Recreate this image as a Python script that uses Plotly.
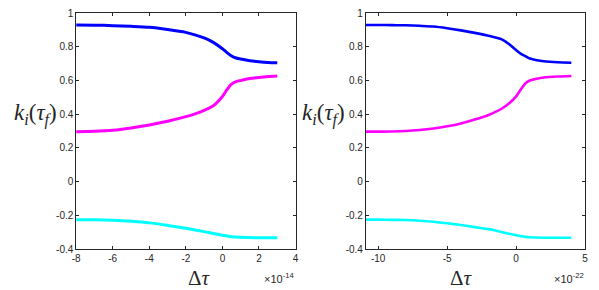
import plotly.graph_objects as go

# ---- data (left panel, x in units of 1e-14) ----
x_left = [-8, -7, -6, -5, -4, -3, -2, -1.5, -1, -0.5, 0, 0.25, 0.5, 0.75, 1, 1.5, 2, 2.5, 3]
blue_left = [0.929, 0.928, 0.925, 0.921, 0.915, 0.902, 0.885, 0.870, 0.852, 0.826, 0.788, 0.765, 0.745, 0.733, 0.727, 0.717, 0.711, 0.707, 0.705]
mag_left = [0.296, 0.298, 0.304, 0.318, 0.336, 0.358, 0.385, 0.402, 0.423, 0.450, 0.505, 0.545, 0.578, 0.593, 0.600, 0.611, 0.618, 0.623, 0.626]
cyan_left = [-0.226, -0.227, -0.230, -0.236, -0.245, -0.260, -0.277, -0.287, -0.297, -0.308, -0.318, -0.323, -0.327, -0.329, -0.330, -0.332, -0.333, -0.333, -0.333]

# ---- data (right panel, x in units of 1e-22) ----
x_right = [-10.9, -10, -9, -8, -7, -6, -5, -4, -3, -2, -1.5, -1, -0.5, 0, 0.35, 0.7, 1, 1.5, 2, 3, 4]
blue_right = [0.929, 0.929, 0.928, 0.927, 0.924, 0.920, 0.910, 0.897, 0.882, 0.865, 0.855, 0.842, 0.815, 0.780, 0.758, 0.743, 0.730, 0.720, 0.714, 0.708, 0.705]
mag_right = [0.296, 0.296, 0.297, 0.300, 0.306, 0.315, 0.328, 0.345, 0.368, 0.395, 0.413, 0.435, 0.465, 0.505, 0.548, 0.585, 0.600, 0.610, 0.617, 0.623, 0.626]
cyan_right = [-0.226, -0.226, -0.227, -0.228, -0.232, -0.238, -0.247, -0.258, -0.270, -0.282, -0.290, -0.300, -0.310, -0.318, -0.324, -0.328, -0.330, -0.332, -0.333, -0.333, -0.333]

y_ticks = [-0.4, -0.2, 0, 0.2, 0.4, 0.6, 0.8, 1]
y_ticktext = ["-0.4", "-0.2", "0", "0.2", "0.4", "0.6", "0.8", "1"]
xl_ticks = [-8, -6, -4, -2, 0, 2, 4]
xl_ticktext = ["-8", "-6", "-4", "-2", "0", "2", "4"]
xr_ticks = [-10, -5, 0, 5]
xr_ticktext = ["-10", "-5", "0", "5"]

colors = ["#0000ff", "#ff00ff", "#00ffff"]

fig = go.Figure()
for ys, c in zip([blue_left, mag_left, cyan_left], colors):
    fig.add_trace(go.Scatter(x=x_left, y=ys, mode="lines", line=dict(color=c, width=3, shape="spline", smoothing=0.8),
                             xaxis="x", yaxis="y", showlegend=False))
for ys, c in zip([blue_right, mag_right, cyan_right], colors):
    fig.add_trace(go.Scatter(x=x_right, y=ys, mode="lines", line=dict(color=c, width=2.6, shape="spline", smoothing=0.8),
                             xaxis="x2", yaxis="y2", showlegend=False))

W, H = 599, 290
tickfont = dict(family="Liberation Sans, Arial, sans-serif", size=10, color="#262626")
ax_common = dict(showgrid=False, zeroline=False, showline=True, linecolor="#262626", linewidth=0.6,
                 mirror="allticks", ticks="inside", ticklen=3, tickwidth=0.6, tickcolor="#262626",
                 tickfont=tickfont)

fig.update_layout(
    width=W, height=H, paper_bgcolor="white", plot_bgcolor="white",
    margin=dict(l=0, r=0, t=13, b=41),
    xaxis=dict(domain=[73 / W, 295 / W], range=[-8, 4], tickvals=xl_ticks, ticktext=xl_ticktext,
               anchor="y", **ax_common),
    yaxis=dict(domain=[0, 1], range=[-0.4, 1], tickvals=y_ticks, ticktext=y_ticktext,
               anchor="x", **ax_common),
    xaxis2=dict(domain=[366 / W, 588 / W], range=[-10.9, 5], tickvals=xr_ticks, ticktext=xr_ticktext,
                anchor="y2", **ax_common),
    yaxis2=dict(domain=[0, 1], range=[-0.4, 1], tickvals=y_ticks, ticktext=y_ticktext,
                anchor="x2", **ax_common),
)

serif = "Liberation Serif, DejaVu Serif, serif"
ylab = "<i>k<sub>i</sub></i>(<i>τ<sub>f</sub></i>)"
xlab = "Δ<i>τ</i>"
ylow = (249 - 278) / 236
ann = []
ann.append(dict(x=184 / W, y=ylow, xref="paper", yref="paper", text=xlab, showarrow=False,
                font=dict(family=serif, size=21, color="#262626"), yanchor="middle"))
ann.append(dict(x=477 / W, y=ylow, xref="paper", yref="paper", text=xlab, showarrow=False,
                font=dict(family=serif, size=21, color="#262626"), yanchor="middle"))
ann.append(dict(x=56 / W, y=0.4, xref="paper", yref="y", text=ylab, showarrow=False,
                font=dict(family=serif, size=23, color="#262626"), xanchor="right", yanchor="middle"))
ann.append(dict(x=347 / W, y=0.4, xref="paper", yref="y", text=ylab, showarrow=False,
                font=dict(family=serif, size=23, color="#262626"), xanchor="right", yanchor="middle"))
ann.append(dict(x=296 / W, y=ylow, xref="paper", yref="paper", text="×10<sup>-14</sup>", showarrow=False,
                xanchor="right", yanchor="middle", font=dict(family="Liberation Sans, Arial", size=11, color="#262626")))
ann.append(dict(x=589 / W, y=ylow, xref="paper", yref="paper", text="×10<sup>-22</sup>", showarrow=False,
                xanchor="right", yanchor="middle", font=dict(family="Liberation Sans, Arial", size=11, color="#262626")))
fig.update_layout(annotations=ann)

fig.write_html("out.html", config={"displayModeBar": False},
               post_script="document.body.style.margin='0';document.body.style.overflow='hidden';")
